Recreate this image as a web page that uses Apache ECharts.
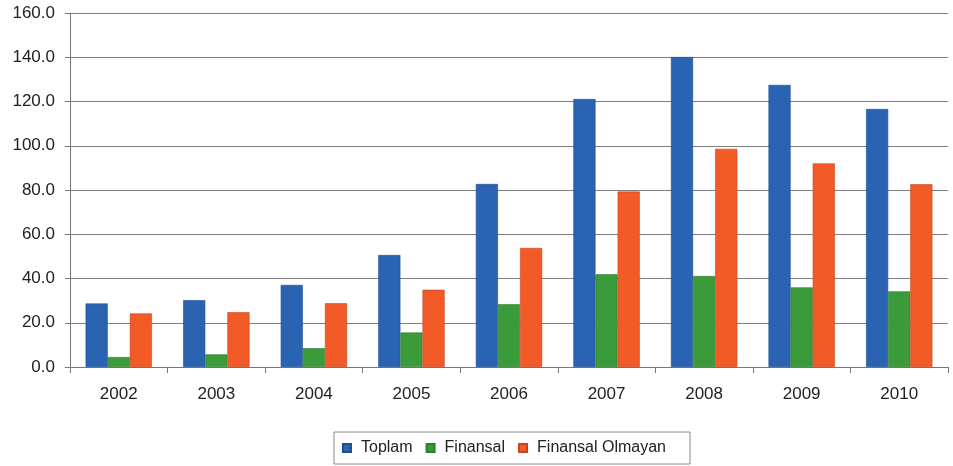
<!DOCTYPE html>
<html>
<head>
<meta charset="utf-8">
<script src="https://cdn.jsdelivr.net/npm/echarts@6/dist/echarts.min.js"></script>
<style>
  html, body { margin: 0; padding: 0; background: #fff; }
  #chart { width: 953px; height: 466px; }
</style>
</head>
<body>
<div id="chart"></div>
<script>
const years = ['2002', '2003', '2004', '2005', '2006', '2007', '2008', '2009', '2010'];
const toplam = [28.7, 30.2, 37.1, 50.6, 82.7, 121.1, 140.1, 127.5, 116.6];
const finansal = [4.5, 5.7, 8.5, 15.6, 28.4, 41.9, 41.1, 36.0, 34.2];
const finansalOlmayan = [24.2, 24.8, 28.8, 34.9, 53.8, 79.3, 98.6, 92.0, 82.6];

const chart = echarts.init(document.getElementById('chart'));

const font = 'Liberation Sans, Arial, sans-serif';

chart.setOption({
  animation: false,
  textStyle: { fontFamily: font },
  grid: {
    left: 70,
    right: 5,
    top: 13,
    bottom: 99
  },
  legend: {
    bottom: 2,
    left: 334,
    itemWidth: 8,
    itemHeight: 8,
    itemGap: 13,
    borderColor: '#888',
    borderWidth: 1,
    padding: [8, 24, 8, 8],
    icon: 'rect',
    textStyle: { fontSize: 16, color: '#222', fontFamily: font, padding: [0, 0, 0, 5] }
  },
  xAxis: {
    type: 'category',
    data: years,
    axisLine: { lineStyle: { color: '#777', width: 1 } },
    axisTick: { show: true, length: 6, lineStyle: { color: '#777' } },
    axisLabel: { fontSize: 17, color: '#222', margin: 19 }
  },
  yAxis: {
    type: 'value',
    min: 0,
    max: 160,
    interval: 20,
    axisLine: { show: true, lineStyle: { color: '#777', width: 1 } },
    axisTick: { show: true, length: 5, lineStyle: { color: '#777' } },
    splitLine: { lineStyle: { color: '#808080', width: 1 } },
    axisLabel: {
      fontSize: 17,
      color: '#222',
      margin: 15,
      formatter: v => v.toFixed(1)
    }
  },
  series: [
    {
      name: 'Toplam',
      type: 'bar',
      data: toplam,
      barGap: '0%',
      barCategoryGap: '32%',
      itemStyle: { color: '#2b63b3', borderColor: '#1f4f90', borderWidth: 0.6 }
    },
    {
      name: 'Finansal',
      type: 'bar',
      data: finansal,
      itemStyle: { color: '#3b9b3b', borderColor: '#2e7d2e', borderWidth: 0.6 }
    },
    {
      name: 'Finansal Olmayan',
      type: 'bar',
      data: finansalOlmayan,
      itemStyle: { color: '#f25a27', borderColor: '#c4441b', borderWidth: 0.6 }
    }
  ]
});
</script>
</body>
</html>
